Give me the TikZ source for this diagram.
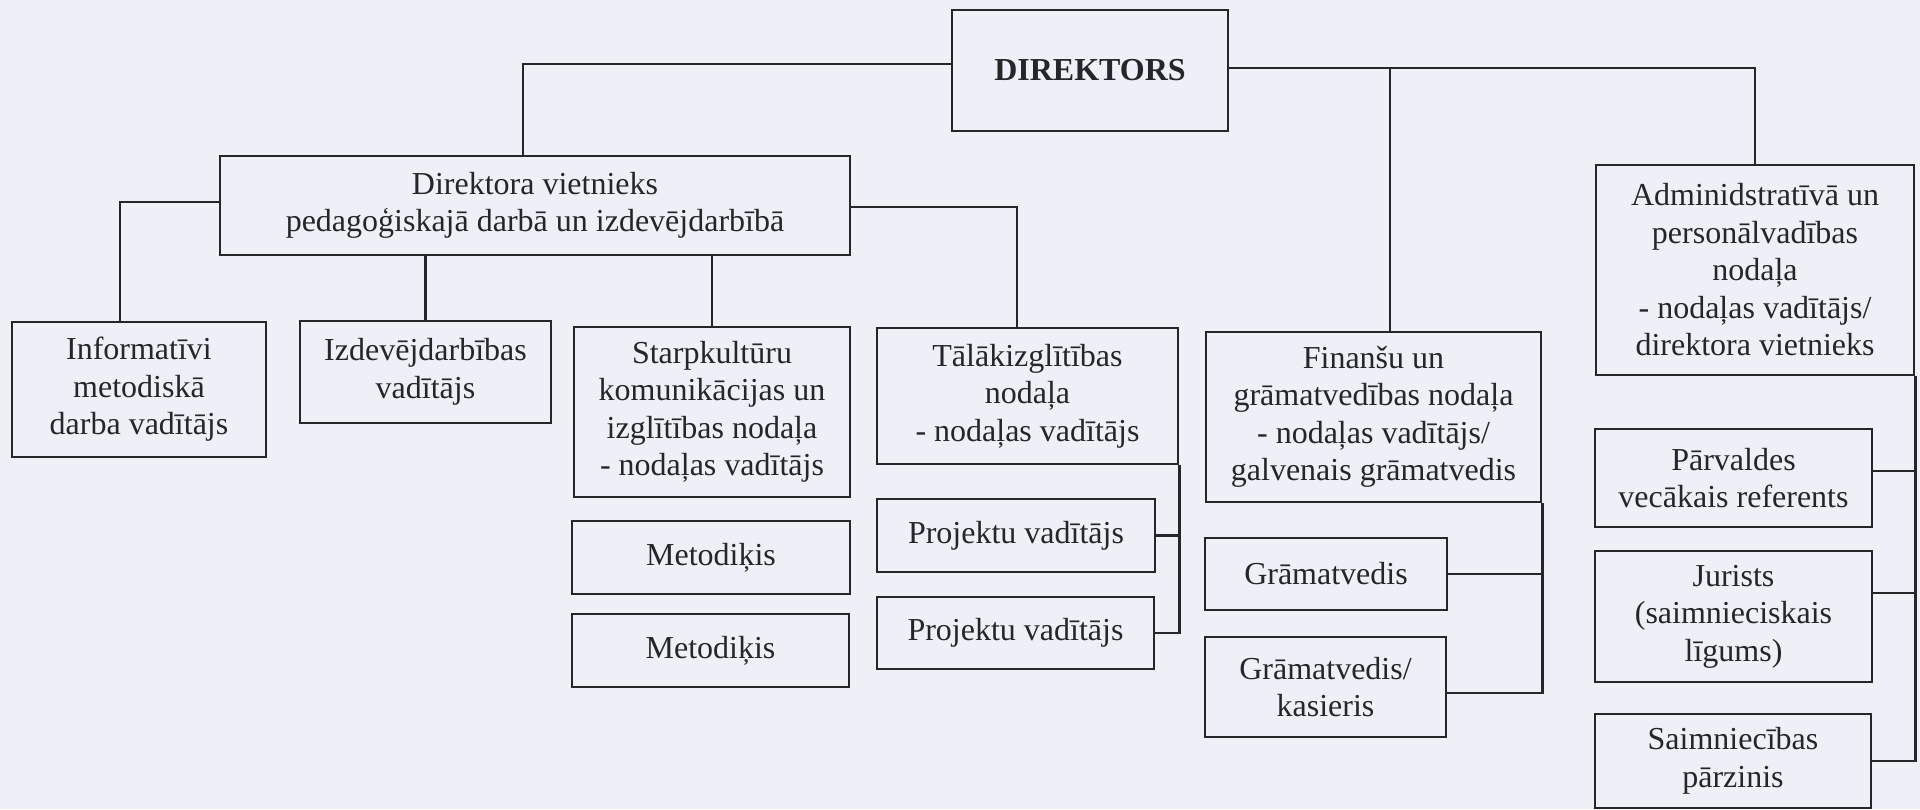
\documentclass[tikz,border=0pt]{standalone}
\usepackage{fontspec}
\setmainfont{Liberation Serif}
\definecolor{paper}{RGB}{238,240,248}
\definecolor{ink}{RGB}{38,38,40}
\begin{document}
\begin{tikzpicture}[x=1pt,y=-1pt,every node/.style={align=center,font=\fontsize{32}{37.5}\selectfont,text=ink},
	box/.style={draw=ink,line width=2.8pt,inner sep=0pt},
	link/.style={draw=ink,line width=2.2pt}]
		\fill[paper](0,0)rectangle(1920,809);
		\useasboundingbox(0,0)rectangle(1920,809);
		
		\node[box,minimum width=276pt,minimum height=121pt](dir)at(1090,70.5){\textbf{DIREKTORS}};
		\node[box,minimum width=630pt,minimum height=99pt](dep)at(535,205.5){Direktora vietnieks\\pedagoģiskajā darbā un izdevējdarbībā};
		
		\node[box,minimum width=254pt,minimum height=135pt](info)at(139,389.5){Informatīvi\\metodiskā\\darba vadītājs};
		\node[box,minimum width=251pt,minimum height=102pt](izd)at(425.5,372){Izdevējdarbības\\vadītājs};
		\node[box,minimum width=276pt,minimum height=170pt](starp)at(712,412){Starpkultūru\\komunikācijas un\\izglītības nodaļa\\- nodaļas vadītājs};
		\node[box,minimum width=278pt,minimum height=73pt](met1)at(711,557.5){Metodiķis};
		\node[box,minimum width=277pt,minimum height=73pt](met2)at(710.5,650.5){Metodiķis};
		
		\node[box,minimum width=301pt,minimum height=136pt](talak)at(1027.5,396){Tālākizglītības\\nodaļa\\- nodaļas vadītājs};
		\node[box,minimum width=278pt,minimum height=73pt](proj1)at(1016,535.5){Projektu vadītājs};
		\node[box,minimum width=277pt,minimum height=72pt](proj2)at(1015.5,633){Projektu vadītājs};
		
		\node[box,minimum width=335pt,minimum height=170pt](fin)at(1373.5,417){Finanšu un\\grāmatvedības nodaļa\\- nodaļas vadītājs/\\galvenais grāmatvedis};
		\node[box,minimum width=242pt,minimum height=72pt](gram1)at(1326,574){Grāmatvedis};
		\node[box,minimum width=241pt,minimum height=100pt](gram2)at(1325.5,687){Grāmatvedis/\\kasieris};
		
		\node[box,minimum width=318pt,minimum height=210pt](adm)at(1755,270){Adminidstratīvā un\\personālvadības\\nodaļa\\- nodaļas vadītājs/\\direktora vietnieks};
		\node[box,minimum width=277pt,minimum height=98pt](parv)at(1733.5,478){Pārvaldes\\vecākais referents};
		\node[box,minimum width=277pt,minimum height=131pt](jur)at(1733.5,616.5){Jurists\\(saimnieciskais\\līgums)};
		\node[box,minimum width=276pt,minimum height=94pt](saim)at(1733,761){Saimniecības\\pārzinis};
		
		\draw[link]([yshift=6.5pt]dir.west)-|([xshift=-12pt]dep.north);
		\draw[link]([yshift=2.5pt]dir.east)-|(adm.north);
		\draw[link]([xshift=16.5pt]fin.north)|-([yshift=2.5pt]dir.east);
		
		\draw[link]([yshift=3.5pt]dep.west)-|([xshift=-19pt]info.north);
		\draw[link]([yshift=-1.5pt]dep.east)-|([xshift=-10.5pt]talak.north);
		\draw[link](izd.north)--(izd.north|-dep.south);
		\draw[link](starp.north)--(starp.north|-dep.south);
		
		\foreach \x in{proj1,proj2}
		\draw[link](\x.east)-|(talak.south east);
		\draw[link](gram1.east)-|(fin.south east);
		\draw[link]([yshift=-6pt]gram2.east)-|(fin.south east);
		\draw[link]([yshift=7pt]parv.east)-|(adm.south east);
		\draw[link]([yshift=23.5pt]jur.east)-|(adm.south east);
		\draw[link](saim.east)-|(adm.south east);
	\end{tikzpicture}
\end{document}
